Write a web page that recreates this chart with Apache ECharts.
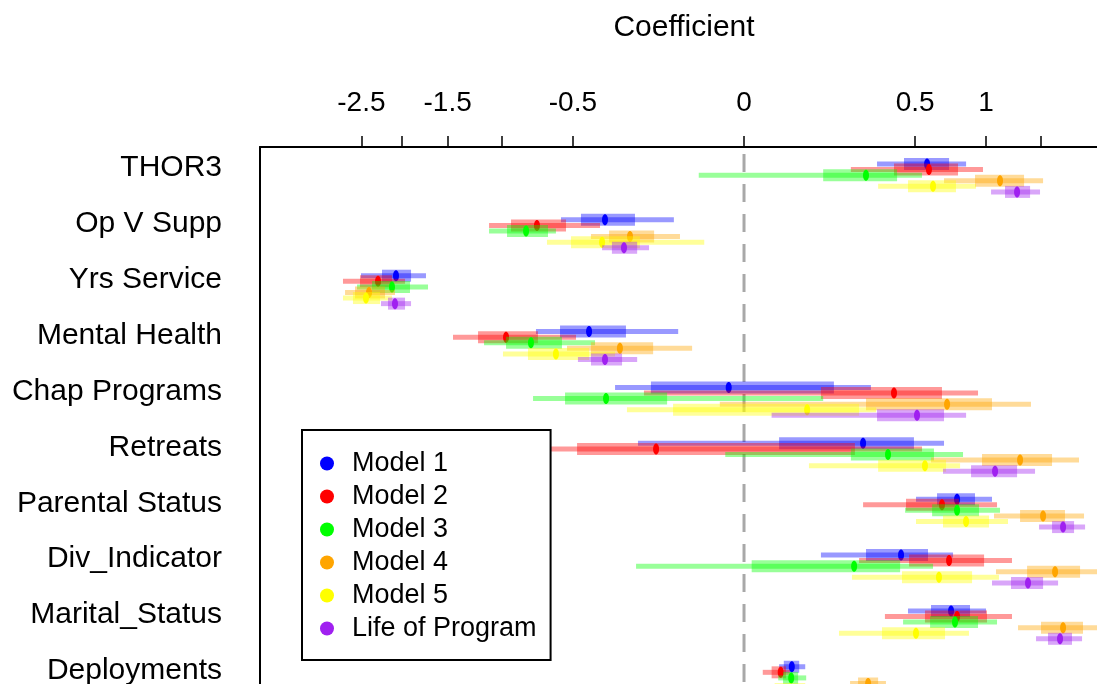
<!DOCTYPE html>
<html>
<head>
<meta charset="utf-8">
<script src="https://cdn.jsdelivr.net/npm/echarts@6/dist/echarts.min.js"></script>
<style>
html,body{margin:0;padding:0;background:#fff;}
#chart{width:1097px;height:684px;}
</style>
</head>
<body>
<div id="chart"></div>
<script>
// ---- data (coefficients) ----
const categories = ['THOR3','Op V Supp','Yrs Service','Mental Health','Chap Programs','Retreats','Parental Status','Div_Indicator','Marital_Status','Deployments'];
const modelNames = ['Model 1','Model 2','Model 3','Model 4','Model 5','Life of Program'];
const tickLabels = [-2.5, -1.5, -0.5, 0, 0.5, 1];
const tickMarks = [-2.5, -2, -1.5, -1, -0.5, 0, 0.5, 1, 1.5];
// each row: [outer low, inner low, estimate, inner high, outer high]
const model1 = [
  [0.302, 0.437, 0.572, 0.718, 0.842],
  [-0.572, -0.454, -0.330, -0.203, -0.084],
  [-2.505, -2.238, -2.068, -1.893, -1.727],
  [-0.739, -0.578, -0.410, -0.238, -0.074],
  [-0.284, -0.148, -0.004, 0.138, 0.275],
  [-0.192, 0.021, 0.242, 0.493, 0.683],
  [0.505, 0.636, 0.775, 0.911, 1.050],
  [0.101, 0.254, 0.421, 0.578, 0.746],
  [0.459, 0.597, 0.732, 0.872, 1.000],
  [0.021, 0.027, 0.039, 0.052, 0.064]
];
const model2 = [
  [0.195, 0.384, 0.584, 0.782, 0.975],
  [-1.110, -0.927, -0.732, -0.541, -0.354],
  [-2.746, -2.518, -2.287, -2.116, -1.962],
  [-1.446, -1.208, -0.967, -0.725, -0.482],
  [-0.171, 0.101, 0.384, 0.669, 0.935],
  [-0.676, -0.476, -0.132, 0.210, 0.541],
  [0.242, 0.448, 0.669, 0.789, 1.093],
  [0.226, 0.465, 0.718, 0.984, 1.226],
  [0.339, 0.559, 0.775, 1.008, 1.226],
  [0.006, 0.013, 0.023, 0.030, 0.036]
];
const model3 = [
  [-0.035, 0.107, 0.254, 0.400, 0.541],
  [-1.110, -0.959, -0.811, -0.656, -0.604],
  [-2.557, -2.363, -2.116, -1.905, -1.705],
  [-1.154, -0.967, -0.775, -0.566, -0.379],
  [-0.760, -0.547, -0.325, -0.101, 0.107],
  [-0.006, 0.195, 0.354, 0.616, 0.819],
  [0.443, 0.604, 0.775, 0.943, 1.119],
  [-0.199, 0.001, 0.207, 0.416, 0.610],
  [0.432, 0.591, 0.760, 0.935, 1.093],
  [0.020, 0.026, 0.038, 0.050, 0.066]
];
const model4 = [
  [0.683, 0.911, 1.119, 1.339, 1.527],
  [-0.400, -0.311, -0.222, -0.138, -0.070],
  [-2.718, -2.584, -2.401, -2.201, -2.080],
  [-0.535, -0.400, -0.263, -0.141, -0.046],
  [-0.010, 0.254, 0.704, 1.050, 1.406],
  [0.597, 0.967, 1.301, 1.620, 1.916],
  [1.067, 1.301, 1.527, 1.759, 1.974],
  [1.084, 1.368, 1.652, 1.928, 2.312],
  [1.282, 1.506, 1.738, 1.962, 2.262],
  [0.192, 0.222, 0.263, 0.307, 0.344]
];
const model5 = [
  [0.307, 0.459, 0.610, 0.767, 0.919],
  [-0.663, -0.511, -0.344, -0.185, -0.027],
  [-2.746, -2.611, -2.440, -2.262, -2.116],
  [-0.992, -0.797, -0.604, -0.410, -0.284],
  [-0.234, -0.086, 0.068, 0.226, 0.298],
  [0.072, 0.307, 0.559, 0.697, 0.797],
  [0.505, 0.676, 0.842, 1.025, 1.190],
  [0.199, 0.426, 0.649, 0.888, 1.110],
  [0.154, 0.325, 0.505, 0.690, 0.864],
  [0.008, 0.016, 0.036, 0.064, 0.099]
];
const model6 = [
  [1.042, 1.163, 1.273, 1.397, 1.496],
  [-0.344, -0.298, -0.246, -0.195, -0.154],
  [-2.250, -2.164, -2.080, -1.962, -1.893],
  [-0.471, -0.400, -0.330, -0.254, -0.195],
  [0.013, 0.302, 0.511, 0.683, 0.842],
  [0.676, 0.880, 1.076, 1.273, 1.446],
  [1.486, 1.620, 1.738, 1.860, 1.986],
  [1.050, 1.217, 1.377, 1.527, 1.684],
  [1.456, 1.578, 1.705, 1.837, 1.951],
  [0.022, 0.036, 0.054, 0.074, 0.099]
];
const models = [model1, model2, model3, model4, model5, model6];
const modelColors = ['#0000FF','#FF0000','#00FF00','#FFA500','#FFFF00','#A020F0'];

// ---- signed square-root scale used by the original axis ----
const f = v => Math.sign(v) * Math.sqrt(Math.abs(v));
const FONT = '"Liberation Sans", Arial, Helvetica, sans-serif';

const chart = echarts.init(document.getElementById('chart'), null, {renderer: 'canvas'});

function renderItem(params, api) {
  const color = api.visual('color');
  const yv = api.value(0);
  const a = api.coord([api.value(1), yv]);
  const b = api.coord([api.value(2), yv]);
  const e = api.coord([api.value(3), yv]);
  const c = api.coord([api.value(4), yv]);
  const d = api.coord([api.value(5), yv]);
  const cs = params.coordSys;
  const clip = r => echarts.graphic.clipRectByRect(r, {x: cs.x, y: cs.y, width: cs.width, height: cs.height});
  const thin = clip({x: a[0], y: e[1] - 2.5, width: d[0] - a[0], height: 5});
  const thick = clip({x: b[0], y: e[1] - 6, width: c[0] - b[0], height: 12});
  const children = [];
  if (thin) children.push({type: 'rect', shape: thin, style: {fill: color, opacity: 0.4}});
  if (thick) children.push({type: 'rect', shape: thick, style: {fill: color, opacity: 0.4}});
  children.push({type: 'ellipse', shape: {cx: e[0], cy: e[1], rx: 3, ry: 5.5}, style: {fill: color}});
  return {type: 'group', children};
}

const series = models.map((m, k) => ({
  name: modelNames[k],
  type: 'custom',
  renderItem,
  itemStyle: {color: modelColors[k]},
  encode: {x: [1, 2, 3, 4, 5], y: 0},
  z: 3,
  data: m.map((r, i) => [i + 0.1 * k, f(r[0]), f(r[1]), f(r[2]), f(r[3]), f(r[4])])
}));

series.unshift({
  name: 'zero',
  type: 'line',
  silent: true,
  symbol: 'none',
  z: 1,
  lineStyle: {color: '#a8a8a8', width: 3, type: [18, 12]},
  data: [[0, -0.18], [0, 10]]
});

const option = {
  animation: false,
  backgroundColor: '#ffffff',
  grid: {left: 260, top: 147, right: -11, bottom: -38.6, containLabel: false, outerBoundsMode: 'none'},
  graphic: [{
    type: 'text', x: 684, y: 28,
    style: {text: 'Coefficient', font: '30px ' + FONT, fill: '#000', textAlign: 'center', textVerticalAlign: 'middle'}
  }],
  legend: {
    data: modelNames,
    orient: 'vertical',
    left: 302, top: 430,
    padding: [20, 14, 18, 18],
    itemWidth: 14, itemHeight: 14, itemGap: 6,
    icon: 'circle',
    backgroundColor: '#fff',
    borderColor: '#000', borderWidth: 2,
    textStyle: {fontSize: 27, lineHeight: 27, fontFamily: FONT, color: '#000', padding: [0, 0, 0, 13]}
  },
  xAxis: {
    type: 'value',
    position: 'top',
    min: -2.0, max: 1.504,
    splitLine: {show: false},
    axisLine: {show: true, onZero: false, lineStyle: {color: '#000', width: 2}},
    axisTick: {show: true, inside: false, length: 11, customValues: tickMarks.map(f), lineStyle: {color: '#000', width: 1.5}},
    axisLabel: {
      show: true, margin: 30, fontSize: 28, fontFamily: FONT, color: '#000',
      customValues: tickLabels.map(f),
      formatter: v => {
        let best = tickLabels[0], bd = Infinity;
        tickLabels.forEach(t => { const dd = Math.abs(f(t) - v); if (dd < bd) { bd = dd; best = t; } });
        return String(best);
      }
    }
  },
  yAxis: {
    type: 'value',
    inverse: true,
    min: -0.304, max: 10,
    splitLine: {show: false},
    axisLine: {show: true, onZero: false, lineStyle: {color: '#000', width: 2}},
    axisTick: {show: false},
    axisLabel: {
      show: true, margin: 38, fontSize: 30, fontFamily: FONT, color: '#000',
      customValues: categories.map((c, i) => i + 0.075),
      formatter: v => categories[Math.round(v)] || ''
    }
  },
  series
};
chart.setOption(option);
</script>
</body>
</html>
